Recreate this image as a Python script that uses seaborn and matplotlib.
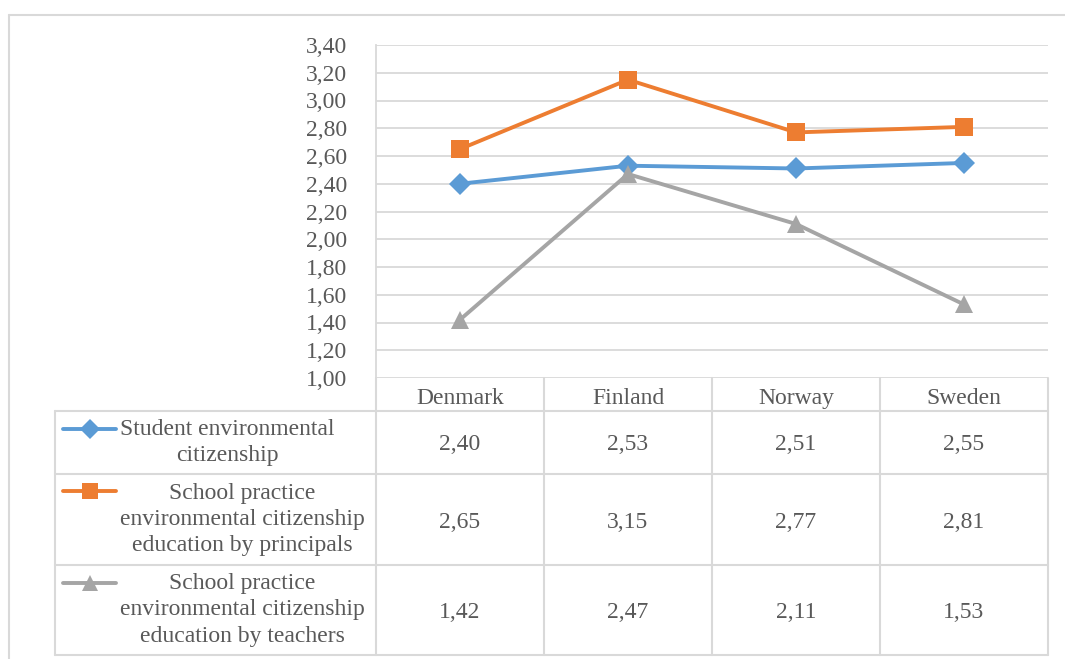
import numpy as np
import pandas as pd
import matplotlib
matplotlib.use("Agg")
import matplotlib.pyplot as plt
import seaborn as sns

countries = ["Denmark", "Finland", "Norway", "Sweden"]
series_names = [
    "Student environmental\ncitizenship",
    "School practice\nenvironmental citizenship\neducation by principals",
    "School practice\nenvironmental citizenship\neducation by teachers",
]
student = [2.40, 2.53, 2.51, 2.55]
principals = [2.65, 3.15, 2.77, 2.81]
teachers = [1.42, 2.47, 2.11, 1.53]
y_ticks = [1.0, 1.2, 1.4, 1.6, 1.8, 2.0, 2.2, 2.4, 2.6, 2.8, 3.0, 3.2, 3.4]

colors = ["#5B9BD5", "#ED7D31", "#A5A5A5"]
markers = ["D", "s", "^"]
msizes = [11, 13, 13]

sns.set_theme(style="white")
plt.rcParams["font.family"] = ["Liberation Serif", "DejaVu Serif"]
TXT = "#595959"
GRID = "#D9D9D9"
FS = 17
LW = 2.8

W, H = 1065, 659
fig = plt.figure(figsize=(W / 100, H / 100), dpi=100)

def fx(px):
    return px / W

def fy(py):
    return 1 - py / H

# plot area
L, R, T, B = 376, 1048, 45, 378
ax = fig.add_axes([fx(L), fy(B), fx(R) - fx(L), fy(T) - fy(B)])

values = [student, principals, teachers]
df = pd.DataFrame({
    "country": countries * 3,
    "value": student + principals + teachers,
    "series": sum([[s] * len(countries) for s in series_names], []),
})
for i, s in enumerate(series_names):
    sub = df[df["series"] == s]
    sns.lineplot(data=sub, x="country", y="value", ax=ax, color=colors[i],
                 marker=markers[i], markersize=msizes[i], markeredgewidth=0,
                 linewidth=LW, sort=False, legend=False)

ax.set_xlim(-0.5, len(countries) - 0.5)
ax.set_ylim(y_ticks[0], y_ticks[-1])
ax.set_yticks(y_ticks)
ax.set_yticklabels([f"{v:.2f}".replace(".", ",") for v in y_ticks],
                   fontsize=FS, color=TXT)
ax.tick_params(axis="y", length=0, pad=21)
ax.set_xticks([])
ax.set_xlabel("")
ax.set_ylabel("")
ax.grid(axis="y", color=GRID, linewidth=1.3)
ax.set_axisbelow(True)
for side in ["top", "right", "bottom"]:
    ax.spines[side].set_visible(False)
ax.spines["left"].set_color(GRID)
ax.spines["left"].set_linewidth(1.3)
ax.patch.set_alpha(0)

# overlay in pixel coordinates for the data table and frame
ov = fig.add_axes([0, 0, 1, 1], zorder=-1)
ov.set_xlim(0, W)
ov.set_ylim(H, 0)
ov.axis("off")

lw = 1.5
# outer frame
ov.plot([9, W], [15, 15], color=GRID, lw=lw)
ov.plot([9, 9], [15, H], color=GRID, lw=lw)

col_edges = [376, 544, 712, 880, 1048]
row_edges = [411, 474, 565, 655]
for yv in row_edges:
    ov.plot([55, 1048], [yv, yv], color=GRID, lw=lw)
ov.plot([55, 55], [411, 655], color=GRID, lw=lw)
for xv in col_edges:
    ov.plot([xv, xv], [378, 655], color=GRID, lw=lw)

centers = [(col_edges[i] + col_edges[i + 1]) / 2 for i in range(len(countries))]
for cx, c in zip(centers, countries):
    ov.text(cx, 396, c, ha="center", va="center_baseline", fontsize=FS, color=TXT)

row_centers = [(row_edges[i] + row_edges[i + 1]) / 2 for i in range(3)]
first_line = [429, 491, 583]
for i in range(3):
    for cx, v in zip(centers, values[i]):
        ov.text(cx, row_centers[i], f"{v:.2f}".replace(".", ","),
                ha="center", va="center_baseline", fontsize=FS, color=TXT)
    ov.text(120, row_centers[i], series_names[i], ha="left", va="center",
            multialignment="center", fontsize=FS, color=TXT, linespacing=1.33)
    ov.plot([63, 116], [first_line[i], first_line[i]], color=colors[i], lw=LW,
            solid_capstyle="round")
    ov.plot([89.5], [first_line[i]], marker=markers[i], color=colors[i],
            markersize=msizes[i] * 0.88, markeredgewidth=0)

fig.savefig("out.png", dpi=100)
